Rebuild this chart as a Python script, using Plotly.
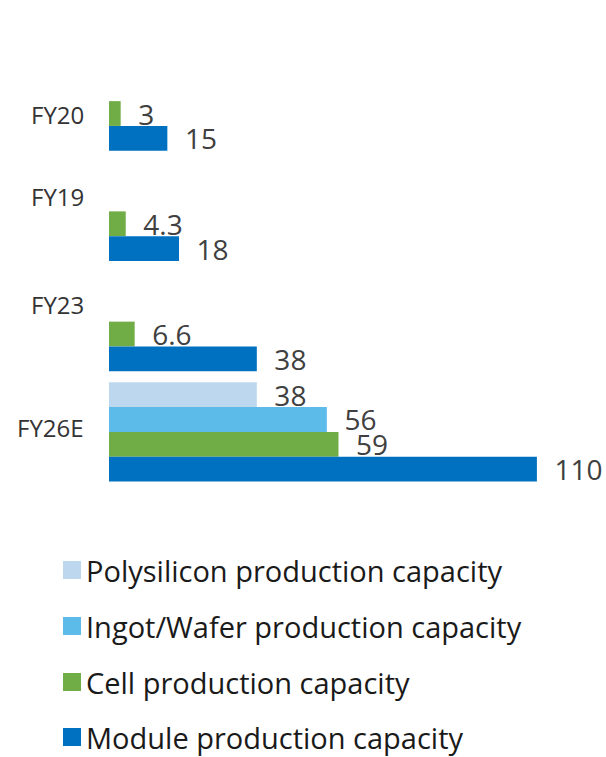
import plotly.graph_objects as go

# Fiscal years (top to bottom) and production capacity by stage (GW)
years = ["FY20", "FY19", "FY23", "FY26E"]
series_names = [
    "Polysilicon production capacity",
    "Ingot/Wafer production capacity",
    "Cell production capacity",
    "Module production capacity",
]
polysilicon = [None, None, None, 38]
ingot_wafer = [None, None, None, 56]
cell = [3, 4.3, 6.6, 59]
module = [15, 18, 38, 110]

colors = ["#bdd7ee", "#5dbbea", "#70ad47", "#0070c0"]
FONT = "Open Sans"

W, H = 606, 757
ML, MR, MT, MB = 109, 10, 46, 270
PW, PH = W - ML - MR, H - MT - MB


def px_x(px):
    return (px - ML) / PW


def px_y(py):
    return (H - MB - py) / PH


def fmt(v):
    return "" if v is None else "\u00a0\u00a0" + f"{v:g}"


fig = go.Figure()
for name, vals, col in zip(series_names, [polysilicon, ingot_wafer, cell, module], colors):
    fig.add_trace(go.Bar(
        y=years, x=vals, orientation="h", name=name,
        marker=dict(color=col, line=dict(width=0)),
        text=[fmt(v) for v in vals], textposition="outside",
        constraintext="none", cliponaxis=False,
        textfont=dict(family=FONT, size=28, color="#404040"),
        showlegend=False,
    ))

# Category labels beside each group
label_shift = [-13, 15, 17, 4]
annotations = []
for yr, sh in zip(years, label_shift):
    annotations.append(dict(
        x=px_x(86), xref="paper", xanchor="right",
        y=yr, yref="y", yanchor="middle", yshift=sh,
        text=yr, showarrow=False,
        font=dict(family=FONT, size=24, color="#333333"),
    ))

# Legend drawn as swatches with text below the plot
shapes = []
legend_rows = [570, 626, 682, 737]
for name, col, cy in zip(series_names, colors, legend_rows):
    shapes.append(dict(
        type="rect", xref="paper", yref="paper",
        x0=px_x(63), x1=px_x(81), y0=px_y(cy + 9), y1=px_y(cy - 9),
        fillcolor=col, line=dict(width=0),
    ))
    annotations.append(dict(
        x=px_x(84), xref="paper", xanchor="left",
        y=px_y(cy), yref="paper", yanchor="middle",
        text=name, showarrow=False,
        font=dict(family=FONT, size=29, color="#1a1a1a"),
    ))

fig.update_layout(
    width=W, height=H,
    margin=dict(l=ML, r=MR, t=MT, b=MB),
    barmode="group", bargap=0.1, bargroupgap=0,
    plot_bgcolor="white", paper_bgcolor="white",
    xaxis=dict(range=[0, PW / 3.89], visible=False, fixedrange=True),
    yaxis=dict(autorange="reversed", showticklabels=False, showgrid=False,
               zeroline=False, showline=False, ticks=""),
    annotations=annotations, shapes=shapes,
)

fig.write_html("out.html")
